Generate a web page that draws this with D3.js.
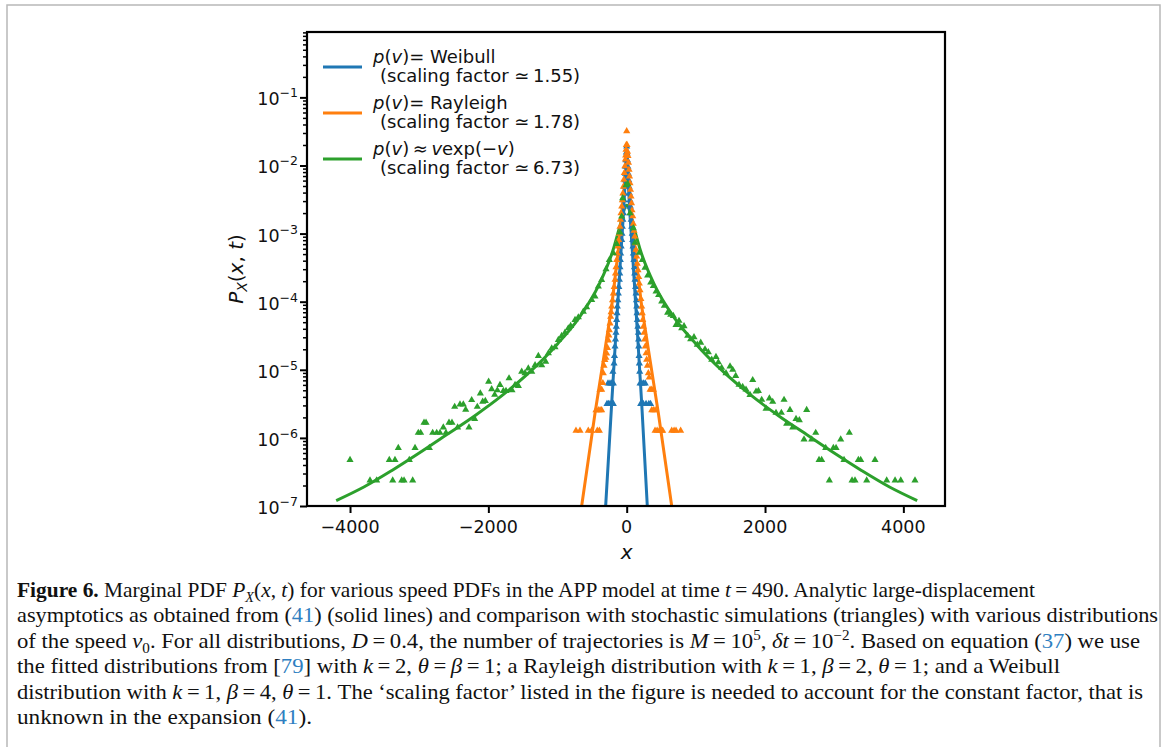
<!DOCTYPE html>
<html>
<head>
<meta charset="utf-8">
<script src="https://cdn.jsdelivr.net/npm/d3@7"></script>
<style>
  body { margin: 0; background: #fff; }
  text { font-family: "DejaVu Sans", sans-serif; }
  .cap { font-family: "Liberation Serif", serif; font-size: 21px; fill: #111; }
</style>
</head>
<body>
<svg id="misvg"></svg>
<script>
// tick values and labels
const xTicks = [-4000, -2000, 0, 2000, 4000];
const xTickLabels = ["\u22124000", "\u22122000", "0", "2000", "4000"];
const yTicks = [1e-7, 1e-6, 1e-5, 1e-4, 1e-3, 1e-2, 1e-1];
const yTickExp = ["\u22127", "\u22126", "\u22125", "\u22124", "\u22123", "\u22122", "\u22121"];

// analytic asymptotics (solid lines), [x, P]
const weibullLine = [[-304,1.0e-7],[-217,3.2e-6],[-155,3.5e-5],[-97,3.2e-4],[-49,1.8e-3],[-10,9.5e-3],[0,1.9e-2],
  [10,9.5e-3],[49,1.8e-3],[97,3.2e-4],[155,3.5e-5],[217,3.2e-6],[298,1.0e-7]];
const rayleighLine = [[-651,1.0e-7],[-458,2.3e-6],[-338,1.38e-5],[-217,8.5e-5],[-121,5.75e-4],[-49,3.1e-3],[0,1.5e-2],
  [49,3.1e-3],[121,5.75e-4],[217,8.5e-5],[338,1.38e-5],[458,2.3e-6],[651,1.0e-7]];
const vexpLine = [[-4200,1.2e-7],[-3800,1.9e-7],[-3400,3.3e-7],[-3000,6.0e-7],[-2600,1.12e-6],[-2200,2.1e-6],[-1800,4.2e-6],
  [-1400,9.3e-6],[-1000,2.4e-5],[-700,5.6e-5],[-400,1.78e-4],[-200,5.6e-4],[-100,1.26e-3],[0,2.6e-3],
  [100,1.26e-3],[200,5.6e-4],[400,1.78e-4],[700,5.6e-5],[1000,2.4e-5],[1400,9.3e-6],[1800,4.2e-6],
  [2200,2.1e-6],[2600,1.12e-6],[3000,6.0e-7],[3400,3.3e-7],[3800,1.9e-7],[4200,1.2e-7]];

// stochastic simulations (triangles), [x, P]
const weibullSim = [[-285,3.15e-6],[-265,3.15e-6],[-241,3.15e-6],[-217,3.15e-6],[-193,3.15e-6],
  [-270,6.3e-6],[-241,6.3e-6],[-217,6.3e-6],[-193,6.3e-6],[-200,9.4e-6],[-183,1.24e-5],[-176,1.6e-5],
  [-169,2.2e-5],[-162,2.8e-5],[-155,3.5e-5],[-150,4.3e-5],[-145,5.4e-5],[-140,6.8e-5],[-135,8.5e-5],
  [-128,1.05e-4],[-121,1.32e-4],[-114,1.65e-4],[-106,2.1e-4],[-101,2.6e-4],[-97,3.2e-4],[-92,4.1e-4],
  [-87,5.1e-4],[-80,6.5e-4],[-72,8.1e-4],[-68,1.0e-3],[-63,1.26e-3],[-55,1.6e-3],[-48,2.0e-3],[-44,2.5e-3],
  [-39,3.1e-3],[-34,3.9e-3],[-29,4.9e-3],[-24,6.1e-3],[-19,7.6e-3],[-14,9.6e-3],[-10,1.2e-2],[-5,1.55e-2],
  [0,1.9e-2],[5,1.5e-2],[10,1.2e-2],[17,9.6e-3],[24,7.6e-3],[29,6.1e-3],[34,4.9e-3],[41,3.9e-3],[48,3.1e-3],
  [53,2.5e-3],[58,2.0e-3],[65,1.6e-3],[72,1.26e-3],[80,1.0e-3],[87,8.1e-4],[92,6.5e-4],[96,5.1e-4],
  [104,4.1e-4],[111,3.2e-4],[116,2.6e-4],[120,2.1e-4],[128,1.65e-4],[135,1.32e-4],[140,1.05e-4],[145,8.5e-5],
  [150,6.8e-5],[154,5.4e-5],[162,4.3e-5],[169,3.5e-5],[172,2.8e-5],[174,2.2e-5],[179,1.6e-5],[183,1.24e-5],
  [188,9.4e-6],[193,6.3e-6],[220,6.3e-6],[245,6.3e-6],[268,6.3e-6],[202,3.15e-6],[240,3.15e-6],
  [280,3.15e-6],[320,3.15e-6],[345,3.15e-6]];
const rayleighSim = [[-733,1.28e-6],[-675,1.28e-6],[-555,1.28e-6],[-507,1.28e-6],[-425,1.28e-6],[-395,1.28e-6],
  [-444,2.56e-6],[-410,2.56e-6],[-385,2.56e-6],[-362,2.56e-6],[-386,5.1e-6],[-362,5.1e-6],[-345,6.4e-6],
  [-338,8.9e-6],[-328,1.15e-5],[-315,1.4e-5],[-300,1.5e-5],[-289,1.74e-5],[-277,2.1e-5],[-265,2.7e-5],
  [-258,3.2e-5],[-251,3.8e-5],[-241,4.8e-5],[-232,6.0e-5],[-225,7.0e-5],[-217,8.5e-5],[-205,1.05e-4],
  [-193,1.32e-4],[-181,1.65e-4],[-169,2.1e-4],[-162,2.6e-4],[-155,3.2e-4],[-145,4.1e-4],[-135,5.1e-4],
  [-125,6.5e-4],[-116,8.1e-4],[-106,1.0e-3],[-97,1.26e-3],[-90,1.6e-3],[-82,2.0e-3],[-72,2.5e-3],
  [-63,3.1e-3],[-55,3.9e-3],[-48,4.9e-3],[-41,6.2e-3],[-34,7.8e-3],[-26,9.8e-3],[-19,1.23e-2],[-15,1.4e-2],
  [-10,1.7e-2],[-5,2.0e-2],[0,3.2e-2],[5,2.0e-2],[12,1.6e-2],[19,1.38e-2],[26,1.1e-2],[34,8.7e-3],
  [41,6.9e-3],[48,5.5e-3],[55,4.4e-3],[63,3.5e-3],[70,2.8e-3],[77,2.2e-3],[87,1.8e-3],[96,1.4e-3],
  [106,1.1e-3],[116,9.1e-4],[125,7.2e-4],[135,5.8e-4],[145,4.6e-4],[154,3.6e-4],[164,2.9e-4],[174,2.3e-4],
  [183,1.85e-4],[193,1.48e-4],[205,1.1e-4],[217,8.5e-5],[225,6.8e-5],[232,5.4e-5],[241,4.3e-5],[251,3.5e-5],
  [260,2.8e-5],[270,2.2e-5],[280,1.75e-5],[289,1.41e-5],[300,1.15e-5],[313,8.9e-6],[325,7.7e-6],
  [338,5.1e-6],[362,5.1e-6],[386,5.1e-6],[362,2.56e-6],[386,2.56e-6],[410,2.56e-6],[410,1.28e-6],
  [440,1.28e-6],[472,1.28e-6],[506,1.28e-6],[520,1.28e-6],[651,1.28e-6],[685,1.28e-6],[713,1.28e-6],[780,1.28e-6]];
const vexpSim = [[-4000,4.76e-7],[-3711,2.38e-7],[-3615,2.38e-7],[-3432,4.76e-7],[-3383,2.38e-7],[-3350,4.76e-7],
  [-3302,7.14e-7],[-3253,2.38e-7],[-3219,2.38e-7],[-3143,4.76e-7],[-3094,2.38e-7],[-3060,7.14e-7],
  [-3013,1.19e-6],[-2979,1.19e-6],[-2930,1.67e-6],[-2901,1.67e-6],[-2853,7.14e-7],[-2805,1.19e-6],
  [-2747,1.19e-6],[-2699,1.19e-6],[-2651,1.43e-6],[-2613,1.19e-6],[-2569,1.67e-6],[-2526,1.67e-6],
  [-2487,2.86e-6],[-2444,1.43e-6],[-2410,3.1e-6],[-2362,3.1e-6],[-2328,2.6e-6],[-2280,1.43e-6],
  [-2241,3.6e-6],[-2198,1.9e-6],[-2160,2.86e-6],[-2116,4.5e-6],[-2082,3.4e-6],[-2044,3.5e-6],
  [-1996,6.7e-6],[-1952,5.2e-6],[-1909,4.3e-6],[-1870,5.0e-6],[-1832,6.0e-6],[-1783,4.9e-6],
  [-1745,4.9e-6],[-1701,7.5e-6],[-1658,5.0e-6],[-1614,6.0e-6],[-1566,5.8e-6],[-1518,9.4e-6],
  [-1470,8.9e-6],[-1422,1.05e-5],[-1373,9.4e-6],[-1325,1.17e-5],[-1277,1.6e-5],[-1229,1.17e-5],
  [-1171,1.32e-5],[-1132,1.75e-5],[-1084,2.07e-5],[-1036,2.14e-5],[-988,2.74e-5],[-940,3.14e-5],
  [-892,3.52e-5],[-844,4.07e-5],[-810,4.41e-5],[-747,5.4e-5],[-699,5.9e-5],[-627,7.14e-5],[-579,8.28e-5],
  [-506,1.06e-4],[-458,1.19e-4],[-410,1.67e-4],[-362,2.09e-4],[-299,3.0e-4],[-251,4.11e-4],[-193,5.15e-4],
  [-145,7.06e-4],[-97,1.04e-3],[-72,1.78e-3],[-58,3.31e-3],[-10,5.13e-3],[14,5.37e-3],[48,2.0e-3],
  [96,1.2e-3],[120,7.35e-4],[183,5.24e-4],[226,4.11e-4],[265,3.16e-4],[303,2.42e-4],[347,1.91e-4],
  [385,1.7e-4],[424,1.41e-4],[462,1.26e-4],[506,1.01e-4],[544,8.71e-5],[592,6.92e-5],[636,6.46e-5],
  [674,6.17e-5],[713,4.57e-5],[756,5.25e-5],[795,4.07e-5],[829,4.37e-5],[882,3.16e-5],[925,2.82e-5],
  [973,3.02e-5],[1021,2.34e-5],[1070,2.51e-5],[1132,2.0e-5],[1180,1.82e-5],[1229,1.41e-5],[1291,1.55e-5],
  [1325,1.29e-5],[1373,1.07e-5],[1436,8.91e-6],[1494,1.12e-5],[1533,1.0e-5],[1576,8.13e-6],[1624,6.03e-6],
  [1677,5.62e-6],[1725,5.13e-6],[1783,4.27e-6],[1822,7.08e-6],[1870,4.79e-6],[1904,4.9e-6],[1952,3.63e-6],
  [2015,2.69e-6],[2063,3.8e-6],[2111,3.39e-6],[2159,2.34e-6],[2236,2.34e-6],[2275,3.63e-6],[2313,1.62e-6],
  [2361,2.57e-6],[2400,1.43e-6],[2448,1.9e-6],[2496,1.82e-6],[2564,9.52e-7],[2602,2.57e-6],[2675,9.52e-7],
  [2733,1.19e-6],[2781,4.76e-7],[2819,4.76e-7],[2877,7.14e-7],[2930,2.38e-7],[2988,7.14e-7],[3027,7.14e-7],
  [3094,9.52e-7],[3142,4.76e-7],[3219,1.19e-6],[3258,2.38e-7],[3301,2.38e-7],[3349,4.76e-7],[3383,4.76e-7],
  [3470,2.38e-7],[3590,4.76e-7],[3759,2.38e-7],[3880,2.38e-7],[3962,2.38e-7],[4168,2.38e-7]];

const series = [
  { name: "Weibull", color: "#1f77b4", line: weibullLine, sim: weibullSim,
    l1: [["p","i"],["(",""],["v","i"],[")= Weibull",""]], l2: "(scaling factor \u2243\u20091.55)" },
  { name: "Rayleigh", color: "#ff7f0e", line: rayleighLine, sim: rayleighSim,
    l1: [["p","i"],["(",""],["v","i"],[")= Rayleigh",""]], l2: "(scaling factor \u2243\u20091.78)" },
  { name: "vexp", color: "#2ca02c", line: vexpLine, sim: vexpSim,
    l1: [["p","i"],["(",""],["v","i"],[")\u2009\u2248\u2009",""],["v","i"],["exp(\u2212",""],["v","i"],[")",""]], l2: "(scaling factor \u2243\u20096.73)" }
];

const captionLines = [
  [["Figure 6.","b"],[" Marginal PDF ",""],["P","i"],["X","isub"],["(",""],["x","i"],[", ",""],["t","i"],[") for various speed PDFs in the APP model at time ",""],["t","i"],["\u2009=\u2009490. Analytic large-displacement",""]],
  [["asymptotics as obtained from (",""],["41","ref"],[") (solid lines) and comparison with stochastic simulations (triangles) with various distributions",""]],
  [["of the speed ",""],["v","i"],["0","sub"],[". For all distributions, ",""],["D","i"],["\u2009=\u20090.4, the number of trajectories is ",""],["M","i"],["\u2009=\u200910",""],["5","sup"],[", ",""],["\u03b4t","i"],["\u2009=\u200910",""],["\u22122","sup"],[". Based on equation (",""],["37","ref"],[") we use",""]],
  [["the fitted distributions from [",""],["79","ref"],["] with ",""],["k","i"],["\u2009=\u20092, ",""],["\u03b8","i"],["\u2009=\u2009",""],["\u03b2","i"],["\u2009=\u20091; a Rayleigh distribution with ",""],["k","i"],["\u2009=\u20091, ",""],["\u03b2","i"],["\u2009=\u20092, ",""],["\u03b8","i"],["\u2009=\u20091; and a Weibull",""]],
  [["distribution with ",""],["k","i"],["\u2009=\u20091, ",""],["\u03b2","i"],["\u2009=\u20094, ",""],["\u03b8","i"],["\u2009=\u20091. The \u2018scaling factor\u2019 listed in the figure is needed to account for the constant factor, that is",""]],
  [["unknown in the expansion (",""],["41","ref"],[").",""]]
];
const captionWidths = [1018, 1141, 1123, 1043, 1126, 295];

const W = 1167, H = 747;
const plot = { left: 307, right: 945, top: 32, bottom: 506 };

const svg = d3.select("#misvg").attr("width", W).attr("height", H);

// page frame
svg.append("path")
  .attr("d", "M7," + H + "V5H1160V" + H)
  .attr("fill", "none").attr("stroke", "#b8b8b8").attr("stroke-width", 1.5);

const x = d3.scaleLinear().domain([-4622, 4602]).range([plot.left, plot.right]);
const y = d3.scaleLog().domain([1e-7, 0.912]).range([plot.bottom, plot.top]);

svg.append("clipPath").attr("id", "clip")
  .append("rect").attr("x", plot.left).attr("y", plot.top)
  .attr("width", plot.right - plot.left).attr("height", plot.bottom - plot.top);

const g = svg.append("g").attr("clip-path", "url(#clip)");
const line = d3.line().x(d => x(d[0])).y(d => y(d[1]));
const tri = d3.symbol(d3.symbolTriangle, 22);

// lines underneath, triangles on top
series.slice().reverse().forEach(s => {
  g.append("path").datum(s.line)
    .attr("fill", "none").attr("stroke", s.color).attr("stroke-width", 3)
    .attr("d", s.name === "vexp" ? line.curve(d3.curveMonotoneX)(s.line) : line.curve(d3.curveLinear)(s.line));
});
series.forEach(s => {
  g.selectAll(".m" + s.name).data(s.sim).enter().append("path")
    .attr("class", "m" + s.name)
    .attr("transform", d => "translate(" + x(d[0]) + "," + y(d[1]) + ")")
    .attr("d", tri).attr("fill", s.color);
});

// axes
const minor = [];
for (let e = -7; e <= -1; e++) for (let k = 1; k <= 9; k++) {
  const v = k * Math.pow(10, e);
  if (k > 1 && v <= 0.912) minor.push(v);
}
const gy = svg.append("g").attr("transform", "translate(" + plot.left + ",0)");
gy.call(d3.axisLeft(y).tickValues(yTicks).tickSize(7).tickFormat(""));
gy.append("g").call(d3.axisLeft(y).tickValues(minor).tickSize(4).tickFormat(""))
  .selectAll("line").attr("stroke-width", 1.5);
gy.selectAll(".domain").remove();
gy.selectAll(":scope > .tick line").attr("stroke-width", 2);

const gx = svg.append("g").attr("transform", "translate(0," + plot.bottom + ")");
gx.call(d3.axisBottom(x).tickValues(xTicks).tickSize(7).tickFormat(""));
gx.selectAll(".domain").remove();
gx.selectAll(".tick line").attr("stroke-width", 2);

svg.append("rect")
  .attr("x", plot.left).attr("y", plot.top)
  .attr("width", plot.right - plot.left).attr("height", plot.bottom - plot.top)
  .attr("fill", "none").attr("stroke", "#000").attr("stroke-width", 2.2);

// tick labels
yTicks.forEach((v, i) => {
  const t = svg.append("text").attr("x", 298).attr("y", y(v) + 8)
    .attr("text-anchor", "end").style("font-size", "17.5px").attr("fill", "#111");
  t.append("tspan").text("10");
  t.append("tspan").attr("dy", -8).style("font-size", "12.5px").text(yTickExp[i]);
});
xTicks.forEach((v, i) => {
  svg.append("text").attr("x", x(v)).attr("y", 533)
    .attr("text-anchor", "middle").style("font-size", "17.5px").attr("fill", "#111")
    .text(xTickLabels[i]);
});

// axis labels
svg.append("text").attr("x", x(0)).attr("y", 559).attr("text-anchor", "middle")
  .style("font-size", "20px").style("font-style", "italic").attr("fill", "#111").text("x");
const yl = svg.append("text").attr("transform", "translate(243,269) rotate(-90)")
  .attr("text-anchor", "middle").style("font-size", "20px").attr("fill", "#111");
yl.append("tspan").style("font-style", "italic").text("P");
yl.append("tspan").style("font-style", "italic").style("font-size", "14px").attr("dy", 4).text("X");
yl.append("tspan").attr("dy", -4).text("(");
yl.append("tspan").style("font-style", "italic").text("x");
yl.append("tspan").text(", ");
yl.append("tspan").style("font-style", "italic").text("t");
yl.append("tspan").text(")");

// legend
series.forEach((s, i) => {
  const cy = 67 + i * 46;
  svg.append("line").attr("x1", 323).attr("x2", 362).attr("y1", cy).attr("y2", cy)
    .attr("stroke", s.color).attr("stroke-width", 3);
  const t1 = svg.append("text").attr("x", 373).attr("y", cy - 4)
    .style("font-size", "18px").attr("fill", "#111");
  s.l1.forEach(p => t1.append("tspan").style("font-style", p[1] === "i" ? "italic" : "normal").text(p[0]));
  svg.append("text").attr("x", 380).attr("y", cy + 15)
    .style("font-size", "18px").attr("fill", "#111").text(s.l2);
});

// caption
captionLines.forEach((segs, i) => {
  const t = svg.append("text").attr("class", "cap").attr("x", 17).attr("y", 597 + i * 25.4)
    .attr("textLength", captionWidths[i]).attr("lengthAdjust", "spacingAndGlyphs");
  let shift = 0;
  segs.forEach(p => {
    const sp = t.append("tspan").text(p[0]);
    let target = 0;
    if (p[1] === "b") sp.style("font-weight", "bold");
    if (p[1] === "i" || p[1] === "isub") sp.style("font-style", "italic");
    if (p[1] === "ref") sp.attr("fill", "#2f7fc1");
    if (p[1] === "sub" || p[1] === "isub") { target = 5; sp.style("font-size", "14px"); }
    if (p[1] === "sup") { target = -8; sp.style("font-size", "14px"); }
    if (target !== shift) { sp.attr("dy", target - shift); shift = target; }
  });
});
</script>
</body>
</html>
